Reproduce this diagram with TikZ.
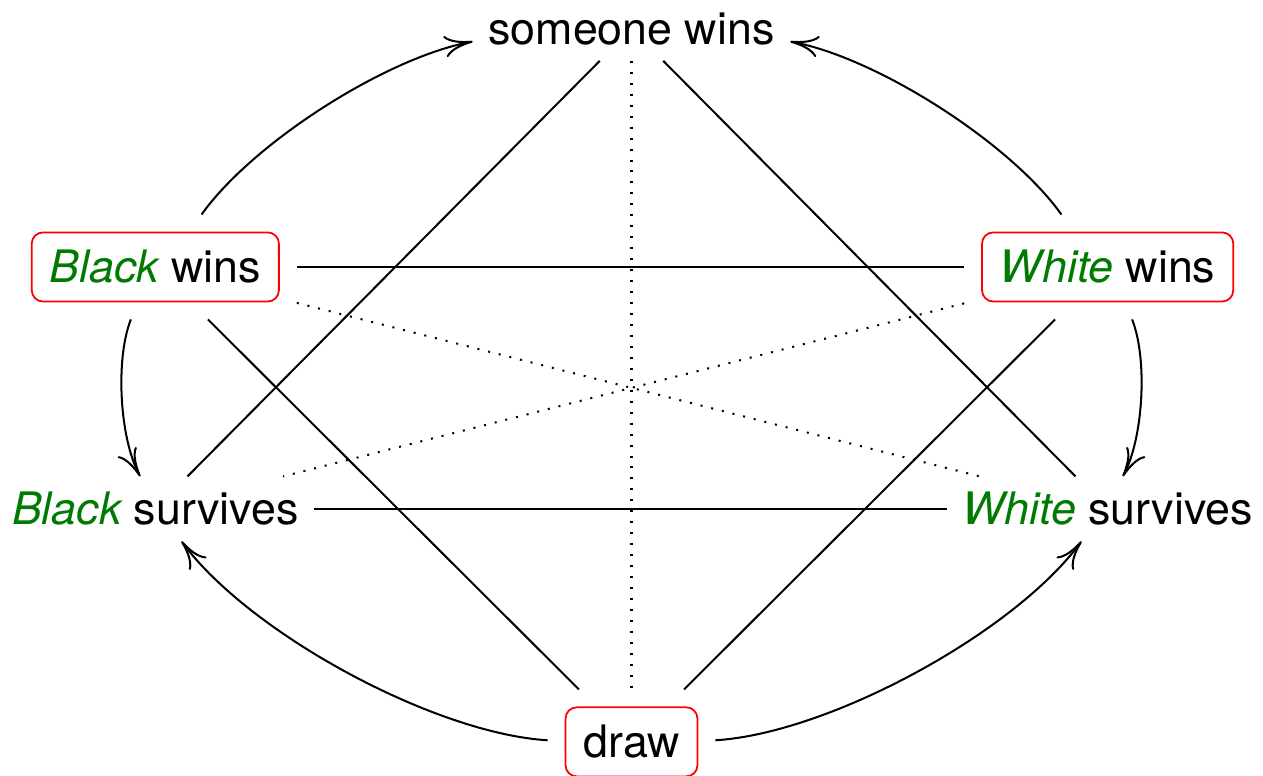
\documentclass[tikz,border=0pt]{standalone}
\usepackage{fontspec}
\setmainfont{TeX Gyre Heros}
\usepackage{tikz}
\usetikzlibrary{arrows.meta}
\definecolor{who}{RGB}{0, 122, 0}

\begin{document}
\begin{tikzpicture}[
   plain/.style={inner sep=3.33pt},
   boxed/.style={draw=red, rounded corners=2.5pt, inner sep=4pt, outer sep=4pt},
   link/.style={line width=0.45pt},
   weak/.style={dotted, line width=0.45pt},
   imp/.style={-{To[length=6.3pt, width=4.8pt]}, line width=0.45pt, looseness=0.7}
  ]

  % Node Spacing
  \pgfmathsetmacro{\dx}{3.74}
  \pgfmathsetmacro{\dy}{0.95}

  \useasboundingbox (-4.96, -3.047) rectangle (4.96, 3.047);

  \node (S) at (0, 2.82) [plain] {someone wins};

  \node (BW) at (-\dx, \dy) [boxed] {{\color{who}\itshape Black} wins};
  \node (WW) at (\dx, \dy) [boxed] {{\color{who}\itshape White} wins};

  \node (BS) at (-\dx, -\dy) [plain] {{\color{who}\itshape Black} survives};
  \node (WS) at (\dx, -\dy) [plain] {{\color{who}\itshape White} survives};

  \node (D) at (0, -2.78) [boxed] {draw};

  \foreach \B/\E in {BW/WW, BS/WS, S/BS, S/WS, BW/D, WW/D} {
    \draw[link] (\B) -- (\E);
  }

  \foreach \B/\E in {S/D, BW/WS, WW/BS} {
    \draw[weak] (\B) -- (\E);
  }

  \foreach \B/\E/\a in {BW/S/22, WW/S/-22, BW/BS/-25, WW/WS/25, D/BS/25, D/WS/-25} {
    \draw[imp] (\B) to[bend left=\a] (\E);
  }

\end{tikzpicture}
\end{document}
